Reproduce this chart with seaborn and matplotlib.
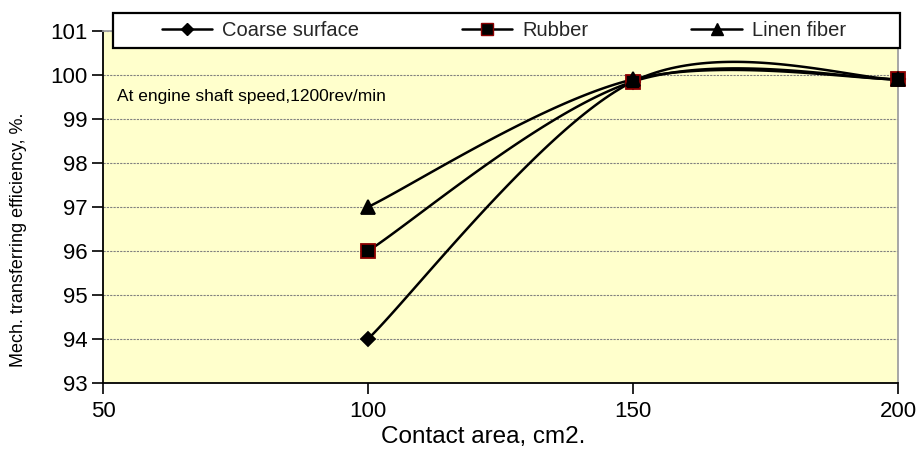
import numpy as np
import pandas as pd
import matplotlib
matplotlib.use("Agg")
import matplotlib.pyplot as plt
from matplotlib.lines import Line2D
from matplotlib.patches import Rectangle
import seaborn as sns

contact_area = [100, 150, 200]
coarse_surface = [94.0, 99.85, 99.9]
rubber = [96.0, 99.85, 99.9]
linen_fiber = [97.0, 99.9, 99.9]
series_names = ["Coarse surface", "Rubber", "Linen fiber"]
x_ticks = [50, 100, 150, 200]
y_ticks = [93, 94, 95, 96, 97, 98, 99, 100, 101]

sns.set_theme(style="white")
plt.rcParams["font.family"] = ["Liberation Sans", "DejaVu Sans"]

fig = plt.figure(figsize=(9.22, 4.51), dpi=100)
ax = fig.add_axes([0.1117, 0.1508, 0.8623, 0.7805])
ax.set_facecolor("#FFFFCC")


def excel_smooth(xs, ys, n=60):
    P = np.column_stack([xs, ys]).astype(float)
    out = []
    for i in range(len(P) - 1):
        p0 = P[i - 1] if i > 0 else P[i]
        p1, p2 = P[i], P[i + 1]
        p3 = P[i + 2] if i + 2 < len(P) else P[i + 1]
        c1 = p1 + (p2 - p0) / 6.0
        c2 = p2 - (p3 - p1) / 6.0
        t = np.linspace(0, 1, n)[:, None]
        seg = ((1 - t) ** 3) * p1 + 3 * ((1 - t) ** 2) * t * c1 + 3 * (1 - t) * t ** 2 * c2 + t ** 3 * p2
        out.append(seg if i == 0 else seg[1:])
    s = np.vstack(out)
    return s[:, 0], s[:, 1]


styles = {
    "Coarse surface": dict(marker="D", ms=7, mfc="black", mec="black"),
    "Rubber": dict(marker="s", ms=10, mfc="black", mec="#8B0000"),
    "Linen fiber": dict(marker="^", ms=10, mfc="black", mec="black"),
}
data = {"Coarse surface": coarse_surface, "Rubber": rubber, "Linen fiber": linen_fiber}

for name in series_names:
    sx, sy = excel_smooth(contact_area, data[name])
    smooth_df = pd.DataFrame({"x": sx, "y": sy})
    sns.lineplot(data=smooth_df, x="x", y="y", ax=ax, color="black", lw=1.8,
                 sort=False, estimator=None, zorder=3)

for name in series_names:
    st = styles[name]
    df = pd.DataFrame({"x": contact_area, "y": data[name]})
    ax.plot(df["x"], df["y"], linestyle="none", marker=st["marker"], ms=st["ms"],
            mfc=st["mfc"], mec=st["mec"], mew=1.3, zorder=4, clip_on=False)

ax.set_xlim(50, 200)
ax.set_ylim(93, 101)
ax.set_xticks(x_ticks)
ax.set_yticks(y_ticks)
ax.tick_params(axis="both", direction="out", length=8, width=1.2, color="black",
               labelsize=16, labelcolor="black", bottom=True, left=True, pad=3)
ax.tick_params(axis="x", pad=5)
ax.yaxis.grid(True, linestyle=(0, (2, 1)), color="#808080", lw=0.8)
ax.xaxis.grid(False)
for side in ["left", "bottom"]:
    ax.spines[side].set_color("black")
    ax.spines[side].set_linewidth(1.3)
for side in ["top", "right"]:
    ax.spines[side].set_color("#A0A0A0")
    ax.spines[side].set_linewidth(1.3)

ax.set_xlabel("Contact area, cm2.", fontsize=17.5, color="black", labelpad=0)
ax.xaxis.set_label_coords(0.478, -0.122)
ax.set_ylabel("Mech. transferring efficiency, %.", fontsize=13, color="black")
ax.yaxis.set_label_coords(-0.095, 0.406)

ax.text(0.018, 0.815, "At engine shaft speed,1200rev/min", transform=ax.transAxes,
        fontsize=12.5, color="black", va="center", ha="left")

# legend box
fig.patches.append(Rectangle((113 / 922, 1 - 48 / 451), (900 - 113) / 922, 35 / 451,
                             transform=fig.transFigure, facecolor="white",
                             edgecolor="black", lw=1.6, zorder=9))

handles = []
for name in series_names:
    st = styles[name]
    handles.append(Line2D([], [], color="black", lw=1.8, marker=st["marker"],
                          ms=st["ms"] - 1, mfc=st["mfc"], mec=st["mec"]))
leg = fig.legend(handles, series_names, loc="center", bbox_to_anchor=(0.5466, 0.932),
                 ncol=3, frameon=False, fontsize=14.5,
                 columnspacing=5.1, handlelength=2.5, handletextpad=0.5,
                 borderpad=0.2, borderaxespad=0)
leg.set_zorder(10)

fig.savefig("out.png", dpi=100)
